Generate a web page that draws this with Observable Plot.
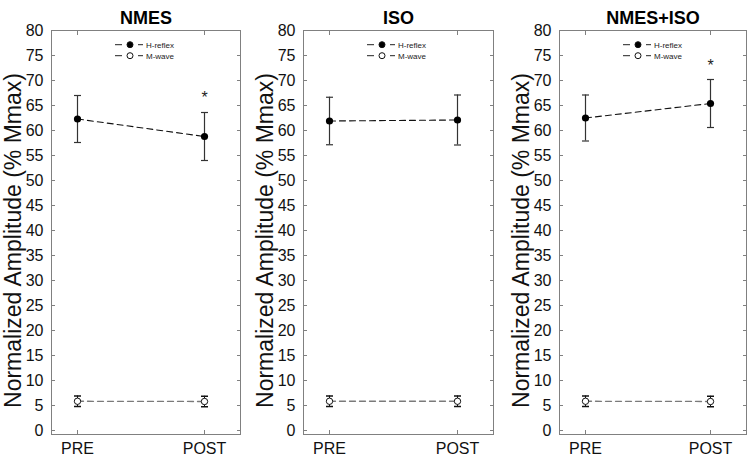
<!DOCTYPE html>
<html><head><meta charset="utf-8">
<script src="https://cdn.jsdelivr.net/npm/d3@7"></script>
<script src="https://cdn.jsdelivr.net/npm/@observablehq/plot@0.6"></script>
<style>
body{margin:0;background:#fff;}
#chart{position:relative;width:749px;height:464px;overflow:hidden;font-family:"Liberation Sans",Arial,sans-serif;background:#fff;}
.panel{position:absolute;top:0;}
.legend{position:absolute;overflow:visible;}
</style></head><body><div id="chart"></div>
<script>
const panels = ["NMES", "ISO", "NMES+ISO"];
const phases = ["PRE", "POST"];
const hMean = [[62.3, 58.8], [61.9, 62.1], [62.5, 65.4]];
const hErr  = [[4.7, 4.8], [4.75, 5.0], [4.6, 4.8]];
const mMean = [[5.85, 5.8], [5.85, 5.85], [5.85, 5.8]];
const mErr  = [[1.05, 1.05], [1.05, 1.05], [1.05, 1.05]];
const starY = [[null, 67.5], [null, null], [null, 74.0]];
const yTicks = d3.range(0, 81, 5);
const yLabel = "Normalized Amplitude (% Mmax)";
const legendLabels = ["H-reflex", "M-wave"];

const layout = [{left: 0, w: 189}, {left: 252, w: 190}, {left: 508, w: 187}];
const FONT = '"Liberation Sans", Arial, sans-serif';
const chart = document.getElementById("chart");

// horizontal cap symbol for error bars
const capSymbol = {draw(ctx) { ctx.moveTo(-3.5, 0); ctx.lineTo(3.5, 0); }};

panels.forEach((name, i) => {
  const H = phases.map((p, j) => ({phase: p, v: hMean[i][j], lo: hMean[i][j] - hErr[i][j], hi: hMean[i][j] + hErr[i][j]}));
  const M = phases.map((p, j) => ({phase: p, v: mMean[i][j], lo: mMean[i][j] - mErr[i][j], hi: mMean[i][j] + mErr[i][j]}));
  const S = phases.map((p, j) => ({phase: p, v: starY[i][j]})).filter(d => d.v != null);
  const L = layout[i];
  const mL = 51, mR = 6;
  const caps = (data, opts) => [
    Plot.dot(data, {x: "phase", y: "lo", symbol: capSymbol, fill: "none", ...opts}),
    Plot.dot(data, {x: "phase", y: "hi", symbol: capSymbol, fill: "none", ...opts})
  ];
  const plot = Plot.plot({
    width: mL + L.w + mR, height: 464,
    marginLeft: mL, marginRight: mR, marginTop: 30, marginBottom: 30,
    x: {type: "point", domain: phases, padding: 0, insetLeft: 26, insetRight: 36},
    y: {domain: [-0.8, 80]},
    style: {fontFamily: FONT, fontSize: "16px", color: "#111", background: "transparent", overflow: "visible"},
    marks: [
      Plot.frame({stroke: "#808080"}),
      Plot.axisY(yTicks, {anchor: "left", tickSize: -4, tickPadding: 12, fontSize: 16, label: null, stroke: "#808080"}),
      Plot.axisY(yTicks, {anchor: "right", tickSize: -4, tickFormat: () => "", label: null, stroke: "#808080"}),
      Plot.axisX({anchor: "bottom", tickSize: -4, tickPadding: 12, fontSize: 16, label: null, stroke: "#808080"}),
      Plot.axisX({anchor: "top", tickSize: -4, tickFormat: () => "", label: null, stroke: "#808080"}),
      Plot.text([name], {frameAnchor: "top", lineAnchor: "bottom", dy: -7, fontSize: 18, fontWeight: "bold", fill: "#000"}),
      Plot.text([yLabel], {frameAnchor: "left", textAnchor: "middle", rotate: -90, dx: -38, dy: 8, fontSize: 23, fill: "#111"}),
      // M-wave
      Plot.line(M, {x: "phase", y: "v", stroke: "#7a7a7a", strokeWidth: 1.3, strokeDasharray: "6,4"}),
      Plot.ruleX(M, {x: "phase", y1: "lo", y2: "hi", stroke: "#111"}),
      ...caps(M, {stroke: "#111"}),
      Plot.dot(M, {x: "phase", y: "v", r: 3.2, stroke: "#111", fill: "white", strokeWidth: 1}),
      // H-reflex
      Plot.line(H, {x: "phase", y: "v", stroke: "#111", strokeWidth: 1.1, strokeDasharray: "6,4"}),
      Plot.ruleX(H, {x: "phase", y1: "lo", y2: "hi", stroke: "#333", strokeWidth: 1.2}),
      ...caps(H, {stroke: "#333", strokeWidth: 1.2}),
      Plot.dot(H, {x: "phase", y: "v", r: 3.6, fill: "#000", stroke: "none"}),
      Plot.text(S, {x: "phase", y: "v", text: () => "*", fontSize: 16, dy: 5, fill: "#222"})
    ]
  });
  plot.classList.add("panel");
  plot.style.left = L.left + "px";
  chart.appendChild(plot);

  // legend
  const lg = d3.create("svg").attr("class", "legend")
    .attr("width", 90).attr("height", 24)
    .style("left", (L.left + mL + 62) + "px").style("top", "38px");
  legendLabels.forEach((lab, k) => {
    const y = 6.7 + k * 11;
    const g = lg.append("g");
    g.append("line").attr("x1", 2).attr("x2", 9).attr("y1", y).attr("y2", y).attr("stroke", "#222").attr("stroke-width", 1);
    g.append("line").attr("x1", 25).attr("x2", 30).attr("y1", y).attr("y2", y).attr("stroke", "#222").attr("stroke-width", 1);
    g.append("circle").attr("cx", 17).attr("cy", y).attr("r", 3)
      .attr("fill", k === 0 ? "#000" : "#fff").attr("stroke", "#111").attr("stroke-width", 1);
    g.append("text").attr("x", 33).attr("y", y).attr("dy", "0.35em")
      .attr("font-family", FONT).attr("font-size", 8).attr("fill", "#222").text(lab);
  });
  chart.appendChild(lg.node());
});
</script>
</body></html>
